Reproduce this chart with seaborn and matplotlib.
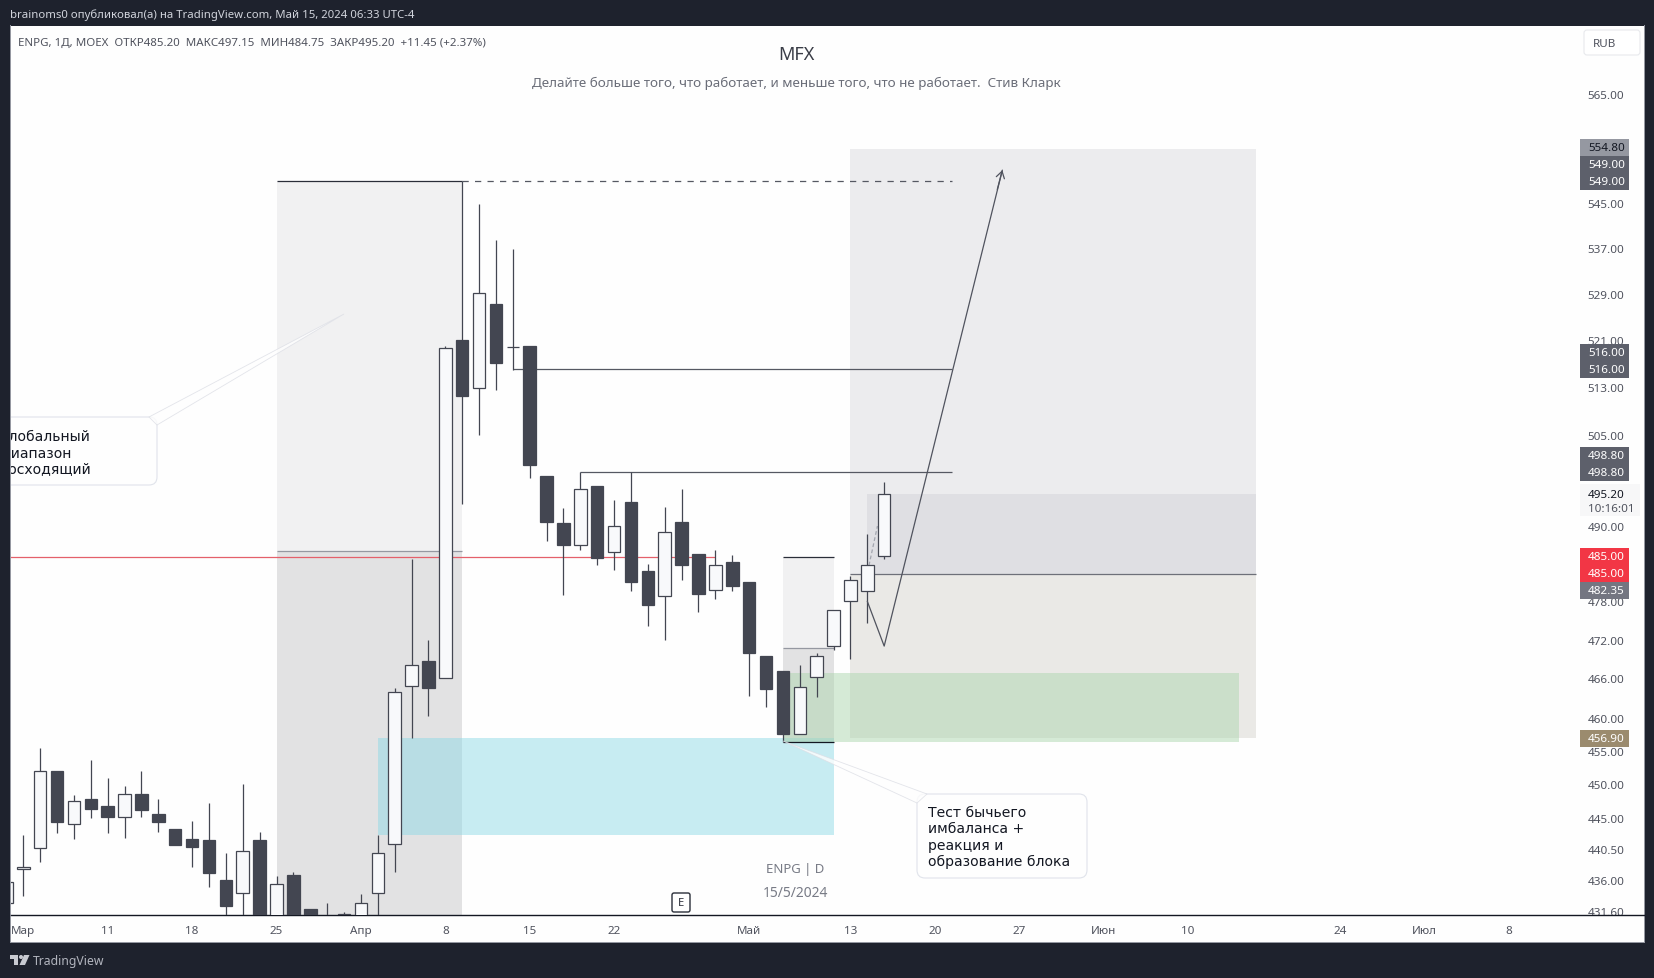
import numpy as np  # For candle positions
import matplotlib
matplotlib.use("Agg")
import matplotlib.pyplot as plt  # For drawing the chart
import matplotlib.patches as mpatches
import matplotlib.transforms as mtrans
from matplotlib.ticker import NullLocator, NullFormatter
import seaborn as sns  # For theme and lines

# Daily candles, the first one is cut by the left edge of the chart
days = list(range(-1, 52))
opens = [432.8, 437.6, 440.7, 452.0, 444.2, 447.9, 446.8, 445.2, 448.6, 445.6, 443.5,
         442.0, 441.9, 436.0, 434.2, 441.8, 429.5, 436.7, 431.9, 430.0, 431.2, 430.0,
         434.2, 441.3, 464.8, 468.7, 466.1, 521.0, 512.9, 527.2, 519.8, 519.9, 498.1,
         490.5, 487.0, 496.6, 485.9, 493.9, 482.8, 478.9, 490.6, 485.5, 479.8, 484.2,
         481.0, 469.5, 467.2, 457.6, 466.3, 471.0, 478.1, 479.7, 485.2]
highs = [435.7, 442.5, 455.4, 452.0, 448.5, 453.7, 450.9, 449.8, 452.0, 447.9, 443.5,
         444.6, 447.3, 439.9, 450.0, 443.0, 436.6, 437.2, 431.9, 432.8, 431.5, 434.1,
         442.5, 464.6, 484.7, 472.0, 519.9, 549.0, 544.8, 538.5, 536.8, 519.9, 498.1,
         492.9, 498.8, 496.6, 494.3, 498.8, 483.9, 493.1, 496.1, 485.5, 486.1, 485.3,
         481.0, 469.5, 467.2, 468.1, 470.0, 476.6, 482.0, 488.8, 497.15]
lows = [432.8, 433.7, 438.6, 442.9, 442.0, 445.0, 442.9, 442.1, 445.2, 443.0, 441.1,
        437.9, 435.0, 429.0, 429.0, 428.0, 428.0, 428.0, 428.5, 428.0, 428.0, 429.0,
        429.0, 437.2, 456.9, 460.2, 466.1, 493.6, 505.0, 512.4, 515.9, 497.9, 487.6,
        479.0, 486.2, 483.8, 483.0, 479.6, 474.1, 472.0, 481.4, 476.4, 478.4, 479.6,
        463.3, 461.7, 456.3, 457.6, 463.2, 470.4, 469.0, 474.6, 484.75]
closes = [435.7, 437.9, 452.0, 444.5, 447.5, 446.4, 445.2, 448.6, 446.3, 444.5, 441.1,
          440.8, 437.1, 432.3, 440.2, 429.5, 435.5, 429.5, 429.5, 429.0, 429.5, 432.8,
          439.9, 463.9, 468.1, 464.6, 519.7, 511.4, 529.1, 517.0, 519.8, 500.0, 490.6,
          487.0, 496.0, 484.9, 490.0, 481.0, 477.4, 489.1, 483.8, 479.1, 483.8, 480.5,
          470.0, 464.4, 457.6, 464.7, 469.5, 476.6, 481.4, 483.7, 495.2]

# Price and time axis labels
price_ticks = [565, 545, 537, 529, 521, 513, 505, 490, 478, 472, 466, 460, 455, 450,
               445, 440.5, 436, 431.6]
price_labels = ["565.00", "545.00", "537.00", "529.00", "521.00", "513.00", "505.00",
                "490.00", "478.00", "472.00", "466.00", "460.00", "455.00", "450.00",
                "445.00", "440.50", "436.00", "431.60"]
time_ticks = [0, 5, 10, 15, 20, 25, 30, 35, 43, 49, 54, 59, 64, 69, 78, 83, 88]
time_labels = ["Мар", "11", "18", "25", "Апр", "8", "15", "22", "Май", "13", "20", "27",
               "Июн", "10", "24", "Июл", "8"]

# Drawn zones: x from, x to, price low, price high, colour, alpha
zones = [
    (15, 26, 486.0, 549.0, "#f1f1f2", 1),
    (15, 26, 431.0, 486.0, "#e2e2e3", 1),
    (45, 48, 470.7, 485.0, "#f1f1f2", 1),
    (45, 48, 456.3, 470.7, "#e2e2e3", 1),
    (49, 73, 482.35, 554.8, "#ececee", 1),
    (49, 73, 456.9, 482.35, "#eae9e6", 1),
    (50, 73, 482.35, 495.2, "#dfdfe3", 1),
    (21, 48, 442.6, 456.9, "#8cd9e6", 0.48),
    (45, 72, 456.4, 466.9, "#aad5ac", 0.48),
]

# Level lines: x from, x to, price, colour, line style
levels = [
    (15, 26, 549.0, "#2a2e39", "-"),
    (26, 55, 549.0, "#555862", (0, (5, 5))),
    (15, 26, 486.0, "#9598a1", "-"),
    (29, 55, 516.0, "#555862", "-"),
    (33, 55, 498.8, "#555862", "-"),
    (49, 73, 482.35, "#6e7079", "-"),
    (45, 48, 485.0, "#2a2e39", "-"),
    (45, 48, 470.7, "#9598a1", "-"),
    (45, 48, 456.3, "#131722", "-"),
]

# Projected move after the current candle
path_days = [50, 51, 58]
path_prices = [478.0, 471.0, 551.0]
dash_days = [50.1, 50.6]
dash_prices = [483.7, 490.0]

# Price tags on the right: text, pixel row, fill, text colour
tags = [
    ("554.80", 148, "#9598a1", "#131722"),
    ("549.00", 165, "#5d606b", "white"),
    ("549.00", 182, "#5d606b", "white"),
    ("516.00", 353, "#5d606b", "white"),
    ("516.00", 370, "#5d606b", "white"),
    ("498.80", 456, "#5d606b", "white"),
    ("498.80", 473, "#5d606b", "white"),
    ("485.00", 557, "#f23645", "white"),
    ("485.00", 574, "#f23645", "white"),
    ("482.35", 591, "#747681", "white"),
    ("456.90", 739, "#9b8b6e", "white"),
]

W, H = 1654, 979
LEFT, RIGHT, TOP, BOTTOM = 11, 1644, 27, 916
BG = "#1e222d"
CANDLE = "#434651"

sns.set_theme(style="white")
plt.rcParams["font.family"] = ["Noto Sans", "DejaVu Sans"]

fig = plt.figure(figsize=(W / 100, H / 100), dpi=100, facecolor=BG)
ax = fig.add_axes([LEFT / W, 1 - BOTTOM / H, (RIGHT - LEFT) / W, (BOTTOM - TOP) / H])
ax.set_facecolor("#fefefe")
ax.set_yscale("log")

# Pixel coordinates from the top left corner, used for labels and boxes only
px = mtrans.Affine2D().scale(1, -1).translate(0, H)


def fig_text(x, y, text, **kw):
    kw.setdefault("va", "center")
    kw.setdefault("ha", "left")
    kw.setdefault("color", "#50535e")
    kw.setdefault("fontsize", 8.4)
    fig.text(x, y + 1, text, transform=px, **kw)


def fig_rect(x0, y0, x1, y1, color, z=1):
    fig.add_artist(mpatches.Rectangle((x0, y0), x1 - x0, y1 - y0, transform=px,
                                      facecolor=color, edgecolor="none", zorder=z))


# White strip under the chart with the time labels, thin grey frame
fig_rect(LEFT, BOTTOM, RIGHT, 943, "#fefefe", z=-1)
fig_rect(10, 26, 11, 944, "#9598a1", z=-1)
fig_rect(RIGHT, 26, RIGHT + 1, 944, "#9598a1", z=-1)
fig_rect(10, 943, RIGHT + 1, 944, "#9598a1", z=-1)

# Zones first, then lines, then candles on top
for x0, x1, low, high, color, alpha in zones:
    ax.fill_between([x0, x1], low, high, color=color, alpha=alpha, lw=0, zorder=1)

ax.hlines(485.0, -1, 41, color="#e4606b", lw=0.9, zorder=2)
for x0, x1, price, color, style in levels:
    ax.hlines(price, x0, x1, color=color, lw=0.9, linestyles=style, zorder=2)

days_arr = np.array(days)
opens_arr, closes_arr = np.array(opens), np.array(closes)
rising = closes_arr >= opens_arr
ax.vlines(days_arr, lows, highs, color=CANDLE, lw=0.9, zorder=3)
ax.bar(days_arr, np.abs(closes_arr - opens_arr), bottom=np.minimum(opens_arr, closes_arr),
       width=0.74, color=np.where(rising, "#f8f9fb", CANDLE), edgecolor=CANDLE, lw=0.9, zorder=4)

# Projected path with open arrow head
sns.lineplot(x=path_days, y=path_prices, sort=False, color="#50535e", lw=0.9, ax=ax,
             errorbar=None, zorder=5)
sns.lineplot(x=dash_days, y=dash_prices, sort=False, color="#a3a6af", lw=0.9, ax=ax,
             errorbar=None, linestyle=(0, (3, 2)), zorder=3)
ax.annotate("", xy=(path_days[-1], path_prices[-1]), xytext=(57.7, 547.5),
            arrowprops=dict(arrowstyle="->,head_length=0.4,head_width=0.25", color="#50535e",
                            lw=0.9, shrinkA=0, shrinkB=0), zorder=5)

# Axes, log scale like the TradingView price axis
ax.set_xlim((LEFT - 23.3) / 16.88, (RIGHT - 23.3) / 16.88)
ax.set_ylim(565 * np.exp((95 - BOTTOM) / 3034), 565 * np.exp((95 - TOP) / 3034))
ax.set_xticks(time_ticks)
ax.set_xticklabels(time_labels, fontsize=8.4, color="#50535e")
ax.yaxis.set_major_locator(plt.FixedLocator(price_ticks))
ax.yaxis.set_major_formatter(plt.FixedFormatter(price_labels))
ax.yaxis.set_minor_locator(NullLocator())
ax.yaxis.set_minor_formatter(NullFormatter())
ax.tick_params(axis="x", length=0, pad=7.5)
ax.tick_params(axis="y", length=0, left=False, labelleft=False, right=False, labelright=True,
               pad=-40.5, labelsize=8.4, labelcolor="#50535e")
ax.set_xlabel("")
ax.set_ylabel("")
for side in ["top", "left", "right"]:
    ax.spines[side].set_visible(False)
ax.spines["bottom"].set_color("#131722")
ax.spines["bottom"].set_linewidth(1)
ax.grid(False)

# Price tags
for label, row, fill, text_color in tags:
    fig_rect(1580, row - 8.5, 1629, row + 8.5, fill)
    weight = "normal" if text_color != "white" else "semibold"
    fig_text(1588, row, label, color=text_color, fontweight=weight, zorder=4)
fig_rect(1580, 485, 1640, 517, "#f7f7f8")
fig_text(1588, 495, "495.20", color="#131722", zorder=4)
fig_text(1588, 509, "10:16:01", color="#50535e", zorder=4)

# RUB button
fig.add_artist(mpatches.FancyBboxPatch((1586, 33), 52, 21, boxstyle="round,pad=2,rounding_size=3",
                                       transform=px, facecolor="white", edgecolor="#e8e9ed", lw=0.8))
fig_text(1593, 44, "RUB", zorder=4)

# Header texts
fig_text(10, 14.5, "brainoms0 опубликовал(а) на TradingView.com, Май 15, 2024 06:33 UTC-4",
         color="#d1d4dc", fontsize=8.2)
fig_text(18, 42, "ENPG, 1Д, MOEX  ОТКР485.20  МАКС497.15  МИН484.75  ЗАКР495.20  +11.45 (+2.37%)",
         fontsize=8.28)
fig_text(796, 54, "MFX", ha="center", fontsize=13, color="#3a3d47")
fig_text(796, 82, "Делайте больше того, что работает, и меньше того, что не работает.  Стив Кларк",
         ha="center", fontsize=9.7, color="#6a6d78")
fig_text(795, 869, "ENPG | D", ha="center", fontsize=9.5, color="#787b86")
fig_text(795, 893, "15/5/2024", ha="center", fontsize=10, color="#787b86")

# E marker under the candles
fig.add_artist(mpatches.FancyBboxPatch((673, 895), 16, 17, boxstyle="round,pad=1,rounding_size=2",
                                       transform=px, facecolor="white", edgecolor="#2a2e39", lw=1))
fig_text(681, 903, "E", ha="center", fontsize=8, color="#2a2e39", zorder=4)


# Callouts with thin pointers
def callout(x0, y0, x1, y1, a, b, tip, rows, text_x):
    box = mpatches.FancyBboxPatch((x0, y0), x1 - x0, y1 - y0, boxstyle="round,pad=0,rounding_size=8",
                                  transform=px, facecolor="#fefefe", edgecolor="#e0e3eb", lw=0.8,
                                  clip_path=ax.patch, zorder=6)
    ax.add_patch(box)
    ax.add_patch(mpatches.Polygon([a, tip, b], closed=True, transform=px, facecolor="#fefefe",
                                  edgecolor="#dcdee5", lw=0.6, alpha=0.8, zorder=6))
    for text, row in rows:
        ax.text(text_x, row + 1, text, transform=px, fontsize=10.1, color="#131722", va="center",
                family="DejaVu Sans", clip_on=True, zorder=7)


callout(-20, 418, 157, 486, (149, 418), (157, 426), (344, 315),
        [("Глобальный", 436), ("диапазон", 452), ("восходящий", 468)], 1)
callout(917, 795, 1087, 879, (927, 795), (917, 804), (783, 742),
        [("Тест бычьего", 812.5), ("имбаланса +", 828.5), ("реакция и", 845), ("образование блока", 861)], 928)

# TradingView logo in the footer
logo = "#c8cad1"
fig_rect(10, 956, 18, 960, logo)
fig_rect(14, 956, 18, 966, logo)
fig.add_artist(mpatches.Circle((21, 958), 2, transform=px, facecolor=logo, edgecolor="none"))
fig.add_artist(mpatches.Polygon([(24, 956), (29.5, 956), (25, 966), (19.5, 966)], closed=True,
                                transform=px, facecolor=logo, edgecolor="none"))
fig_text(33, 961, "TradingView", color="#b2b5be", fontsize=8.8)

fig.savefig("out.png", dpi=100, facecolor=BG)
